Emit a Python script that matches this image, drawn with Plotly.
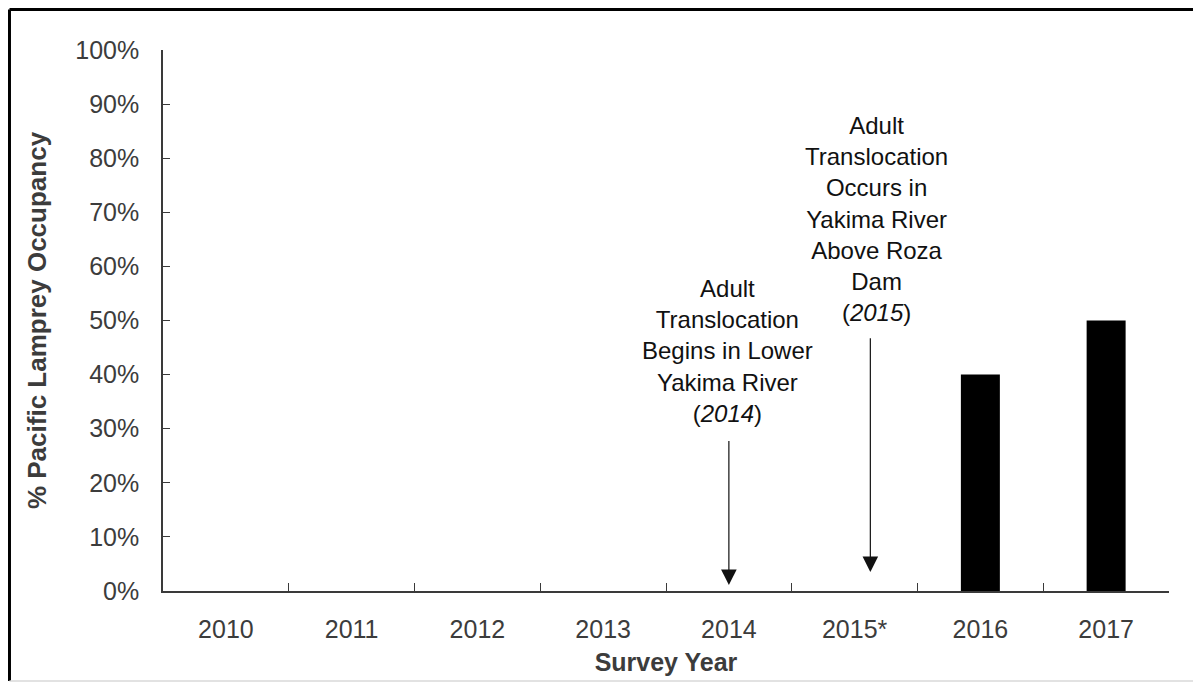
import plotly.graph_objects as go

# ---- data ----
years = ["2010", "2011", "2012", "2013", "2014", "2015*", "2016", "2017"]
occupancy = [0, 0, 0, 0, 0, 0, 0.40, 0.50]
y_ticks = [0, 0.1, 0.2, 0.3, 0.4, 0.5, 0.6, 0.7, 0.8, 0.9, 1.0]

note_2014 = "Adult<br>Translocation<br>Begins in Lower<br>Yakima River<br>(<i>2014</i>)"
note_2015 = "Adult<br>Translocation<br>Occurs in<br>Yakima River<br>Above Roza<br>Dam<br>(<i>2015</i>)"

FONT = "Arial, 'Liberation Sans', sans-serif"
AXIS_COLOR = "#3a3a3a"
TEXT_COLOR = "#3c3c3c"

fig = go.Figure()
fig.add_trace(go.Bar(
    x=years, y=occupancy,
    marker=dict(color="black", line=dict(width=0)),
    width=0.31,
    showlegend=False,
))

i14 = years.index("2014")
i15 = years.index("2015*")

annotations = [
    # 2014 text + arrow
    dict(x=i14, y=0.444, xref="x", yref="y", text=note_2014, showarrow=False,
         xanchor="center", yanchor="middle", xshift=-1,
         font=dict(family=FONT, size=24, color="#111")),
    dict(x=i14, y=0.011, ax=i14, ay=0.28, xref="x", yref="y", axref="x", ayref="y",
         text="", showarrow=True, arrowhead=2, arrowsize=2.6, arrowwidth=1.2,
         arrowcolor="#111"),
    # 2015 text + arrow
    dict(x=i15, y=0.688, xref="x", yref="y", text=note_2015, showarrow=False,
         xanchor="center", yanchor="middle", xshift=22,
         font=dict(family=FONT, size=24, color="#111")),
    dict(x=i15 + 0.125, y=0.035, ax=i15 + 0.125, ay=0.47, xref="x", yref="y",
         axref="x", ayref="y",
         text="", showarrow=True, arrowhead=2, arrowsize=2.6, arrowwidth=1.2,
         arrowcolor="#111"),
]

shapes = [
    # picture frame
    dict(type="line", xref="paper", yref="paper", x0=-0.1526, x1=1.03, y0=1.0749, y1=1.0749,
         line=dict(color="black", width=3)),
    dict(type="line", xref="paper", yref="paper", x0=-0.1526, x1=-0.1526, y0=-0.1664, y1=1.0749,
         line=dict(color="black", width=3)),
    dict(type="line", xref="paper", yref="paper", x0=1.0278, x1=1.0278, y0=-0.1664, y1=1.0749,
         line=dict(color="#d8d8d8", width=1.5)),
    dict(type="line", xref="paper", yref="paper", x0=-0.1526, x1=1.0278, y0=-0.1664, y1=-0.1664,
         line=dict(color="#d8d8d8", width=1.5)),
]

fig.update_layout(
    width=1201, height=685,
    margin=dict(l=155, r=40, t=42, b=102, autoexpand=False),
    paper_bgcolor="white", plot_bgcolor="white",
    font=dict(family=FONT, color=TEXT_COLOR),
    annotations=annotations,
    shapes=shapes,
)

fig.update_xaxes(
    type="category",
    categoryorder="array", categoryarray=years,
    showline=True, linecolor=AXIS_COLOR, linewidth=1.5,
    ticks="inside", ticklen=8, tickwidth=1.2, tickcolor=AXIS_COLOR,
    tickson="boundaries",
    showgrid=False, zeroline=False,
    tickfont=dict(family=FONT, size=25, color=TEXT_COLOR),
    ticklabelstandoff=15,
    title=dict(text="<b>Survey Year</b>", font=dict(family=FONT, size=25, color=TEXT_COLOR),
               standoff=12),
    range=[-0.5, 7.5],
    automargin=False,
)

fig.update_yaxes(
    range=[0, 1.0],
    tickvals=y_ticks, tickformat=".0%",
    showline=True, linecolor=AXIS_COLOR, linewidth=1.5,
    ticks="inside", ticklen=7, tickwidth=1.2, tickcolor=AXIS_COLOR,
    showgrid=False, zeroline=False,
    tickfont=dict(family=FONT, size=25, color=TEXT_COLOR),
    ticklabelstandoff=17,
    title=dict(text="<b>% Pacific Lamprey Occupancy</b>",
               font=dict(family=FONT, size=26, color=TEXT_COLOR), standoff=21),
    automargin=False,
)

fig.write_html("out.html")
